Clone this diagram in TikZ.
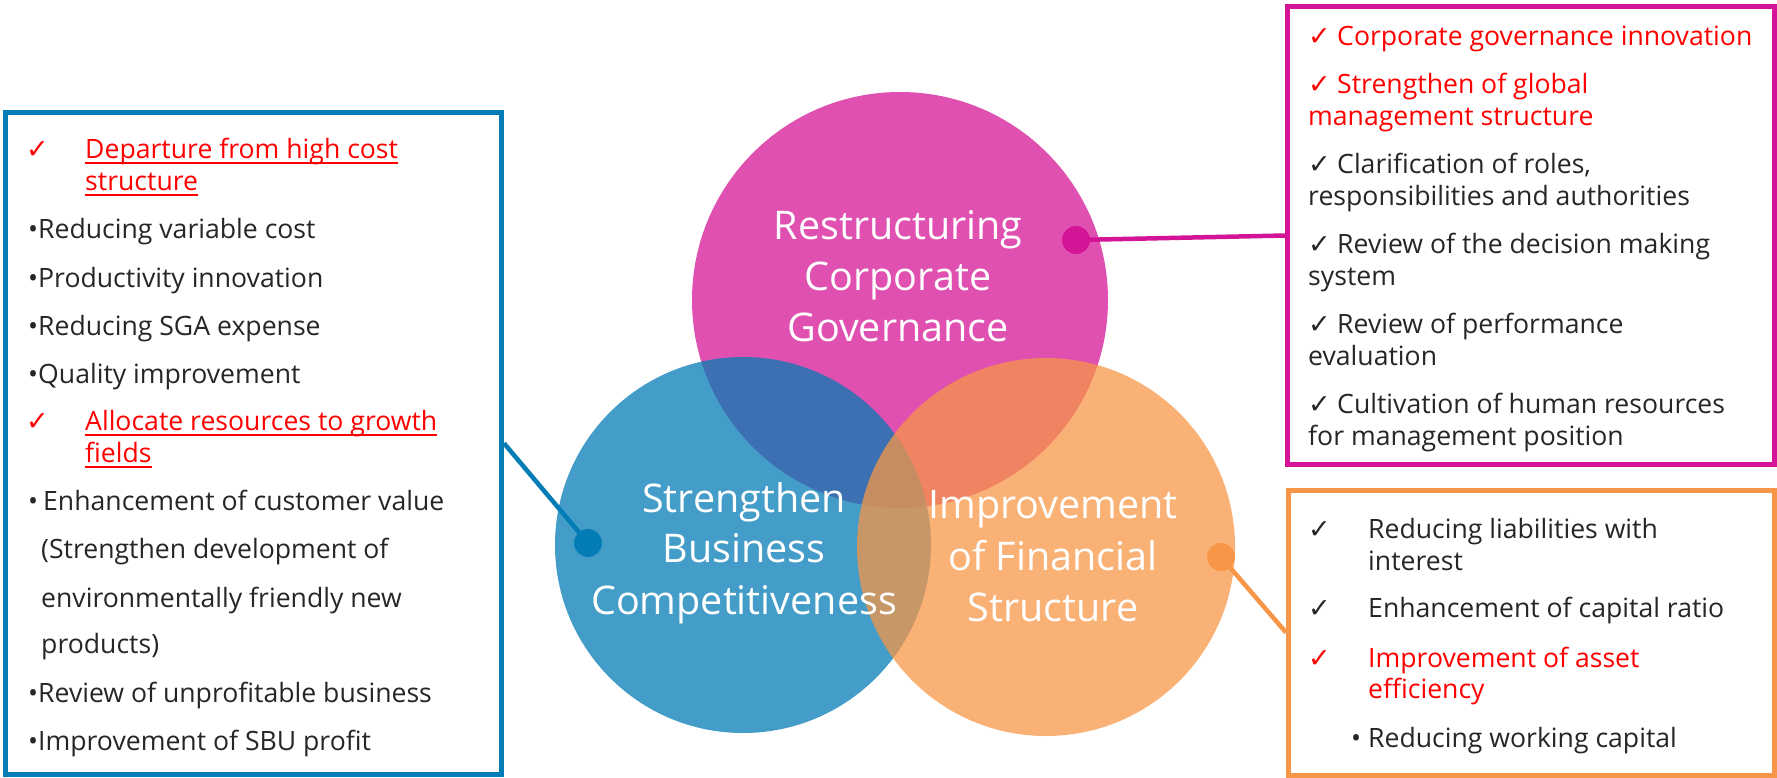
\documentclass[tikz,border=0pt]{standalone}
\usepackage{fontspec}
\setmainfont{Open Sans}
\newfontfamily\symfont{DejaVu Sans}

\definecolor{govC}{RGB}{212,20,150}
\definecolor{compC}{RGB}{4,124,181}
\definecolor{finC}{RGB}{247,150,70}
\definecolor{ink}{RGB}{38,38,38}
\definecolor{hotred}{RGB}{255,0,0}

\newcommand{\tick}{{\symfont\fontsize{27}{30}\selectfont ✓}}

\tikzset{
  venn/.style={circle, inner sep=0pt, fill opacity=0.74, draw=none},
  frame/.style={draw, rectangle, line width=5pt, inner sep=0pt},
  hub/.style={circle, inner sep=0pt, minimum size=28pt},
  link/.style={line width=4.5pt},
  item/.style={anchor=base west, inner sep=0pt, text=ink, font=\fontsize{26.6}{30}\selectfont},
  hot/.style={item, text=hotred},
  uline/.style={draw=hotred, line width=2pt},
  title/.style={anchor=base, inner sep=0pt, text=white, font=\fontsize{39.5}{46}\selectfont}
}

\begin{document}
\begin{tikzpicture}[x=1pt, y=-1pt]
\useasboundingbox[fill=white] (0,0) rectangle (1777,777);

% overlapping circles
\node[venn, fill=govC,  minimum size=416pt] (cG) at (900,300) {};
\node[venn, fill=compC, minimum size=376pt] (cB) at (743,545) {};
\node[venn, fill=finC,  minimum size=378pt] (cF) at (1046,547) {};

% frames
\node[frame, draw=compC, minimum width=496pt, minimum height=661.5pt] (boxB) at (253.5,443.25) {};
\node[frame, draw=govC,  minimum width=487pt, minimum height=458pt]   (boxG) at (1531,235.5) {};
\node[frame, draw=finC,  minimum width=485.5pt, minimum height=285pt] (boxF) at (1531.25,632.5) {};

% connectors
\node[hub, fill=govC]  (dG) at (1076,240) {};
\node[hub, fill=compC] (dB) at (588,543) {};
\node[hub, fill=finC]  (dF) at (1221,557) {};
\draw[link, govC]  (dG.center) -- (boxG.west);
\draw[link, compC] (dB.center) -- (boxB.east);
\draw[link, finC]  (dF.center) -- (boxF.west);

% circle titles
\node[title] (g1) at (898,239) {Restructuring};
\node[title] (g2) at (898,290) {Corporate};
\node[title] (g3) at (898,341) {Governance};
\node[title] (s1) at (744,512) {Strengthen};
\node[title] (s2) at (744,562) {Business};
\node[title] (s3) at (744,614) {Competitiveness};
\node[title] (f1) at (1053,518) {Improvement};
\node[title] (f2) at (1053,570) {of Financial};
\node[title] (f3) at (1053,621) {Structure};

% business competitiveness list
\node[hot]  (bk1) at (26,158) {\tick};
\node[hot]  (b1a) at (85,158) {Departure from high cost};
\node[hot]  (b1b) at (85,190) {structure};
\node[item] (b2)  at (28,238) {•Reducing variable cost};
\node[item] (b3)  at (28,287) {•Productivity innovation};
\node[item] (b4)  at (28,335) {•Reducing SGA expense};
\node[item] (b5)  at (28,383) {•Quality improvement};
\node[hot]  (bk6) at (26,430) {\tick};
\node[hot]  (b6a) at (85,430) {Allocate resources to growth};
\node[hot]  (b6b) at (85,462) {fields};
\node[item] (b7)  at (28,510) {•\hspace{5pt}Enhancement of customer value};
\node[item] (b8)  at (41,558) {(Strengthen development of};
\node[item] (b9)  at (41,607) {environmentally friendly new};
\node[item] (b10) at (41,653) {products)};
\node[item] (b11) at (28,702) {•Review of unprofitable business};
\node[item] (b12) at (28,750) {•Improvement of SBU profit};
\foreach \u in {b1a,b1b,b6a,b6b}
  \draw[uline] ([yshift=-4.5pt]\u.base west) -- ([yshift=-4.5pt]\u.base east);

% corporate governance list
\node[hot]  (gk1) at (1308,45)  {\tick};
\node[hot]  (g1a) at (1337,45)  {Corporate governance innovation};
\node[hot]  (gk2) at (1308,93)  {\tick};
\node[hot]  (g2a) at (1337,93)  {Strengthen of global};
\node[hot]  (g2b) at (1308,125) {management structure};
\node[item] (gk3) at (1308,173) {\tick};
\node[item] (g3a) at (1337,173) {Clarification of roles,};
\node[item] (g3b) at (1308,205) {responsibilities and authorities};
\node[item] (gk4) at (1308,253) {\tick};
\node[item] (g4a) at (1337,253) {Review of the decision making};
\node[item] (g4b) at (1308,285) {system};
\node[item] (gk5) at (1308,333) {\tick};
\node[item] (g5a) at (1337,333) {Review of performance};
\node[item] (g5b) at (1308,365) {evaluation};
\node[item] (gk6) at (1308,413) {\tick};
\node[item] (g6a) at (1337,413) {Cultivation of human resources};
\node[item] (g6b) at (1308,445) {for management position};

% financial structure list
\node[item] (fk1) at (1308,538) {\tick};
\node[item] (f1a) at (1368,538) {Reducing liabilities with};
\node[item] (f1b) at (1368,570) {interest};
\node[item] (fk2) at (1308,617) {\tick};
\node[item] (f2a) at (1368,617) {Enhancement of capital ratio};
\node[hot]  (fk3) at (1308,667) {\tick};
\node[hot]  (f3a) at (1368,667) {Improvement of asset};
\node[hot]  (f3b) at (1368,698) {efficiency};
\node[item] (fb4) at (1351,747) {•};
\node[item] (f4a) at (1368,747) {Reducing working capital};
\end{tikzpicture}
\end{document}
